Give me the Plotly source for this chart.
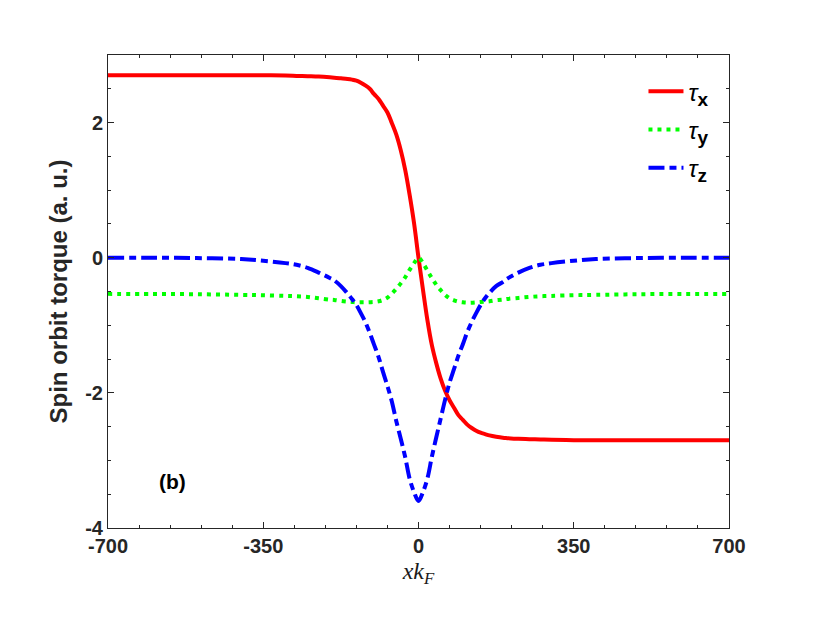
import plotly.graph_objects as go

# values
x_kf = [-700, -600, -500, -400, -350, -300, -275, -250, -225, -200, -190, -175, -160, -150, -140, -130, -120, -110, -100,
        -90, -80, -70, -60, -50, -40, -30, -20, -10,
        0, 10, 20, 30, 40, 50, 60, 70, 80, 90,
        100, 110, 120, 130, 140, 150, 160, 175, 190, 200, 225, 250, 275, 300, 350, 400, 500, 600, 700]

tau_x = [2.70, 2.70, 2.70, 2.70, 2.70, 2.695, 2.69, 2.685, 2.68, 2.67, 2.665, 2.655, 2.645, 2.635, 2.62, 2.59, 2.55, 2.50, 2.42,
         2.35, 2.25, 2.15, 1.99, 1.82, 1.59, 1.30, 0.93, 0.51,
         0.0, -0.47, -0.92, -1.29, -1.56, -1.79, -1.97, -2.11, -2.22, -2.33,
         -2.40, -2.47, -2.52, -2.56, -2.59, -2.61, -2.63, -2.65, -2.665, -2.67, -2.68, -2.685, -2.69, -2.695, -2.70, -2.70, -2.70, -2.70, -2.70]

tau_y = [-0.535, -0.537, -0.54, -0.55, -0.555, -0.565, -0.57, -0.58, -0.60, -0.62, -0.625, -0.64, -0.65, -0.655, -0.66, -0.66, -0.66, -0.658, -0.655,
         -0.645, -0.625, -0.59, -0.53, -0.46, -0.38, -0.29, -0.18, -0.08,
         0.0, -0.08, -0.19, -0.30, -0.40, -0.48, -0.55, -0.60, -0.63, -0.65,
         -0.66, -0.665, -0.665, -0.66, -0.655, -0.65, -0.645, -0.63, -0.62, -0.61, -0.595, -0.58, -0.57, -0.565, -0.555, -0.55, -0.54, -0.537, -0.535]

tau_z = [0.0, 0.0, -0.005, -0.02, -0.045, -0.08, -0.105, -0.15, -0.22, -0.30, -0.335, -0.42, -0.53, -0.61, -0.70, -0.82, -0.95, -1.11, -1.29,
         -1.47, -1.69, -1.90, -2.13, -2.42, -2.68, -2.95, -3.27, -3.47,
         -3.60, -3.47, -3.27, -2.95, -2.66, -2.38, -2.10, -1.85, -1.65, -1.45,
         -1.28, -1.10, -0.95, -0.82, -0.70, -0.60, -0.52, -0.42, -0.36, -0.31, -0.22, -0.15, -0.105, -0.08, -0.045, -0.02, -0.005, 0.0, 0.0]

x_ticks = [-700, -350, 0, 350, 700]
y_ticks = [-4, -2, 0, 2]

def leg(sub):
    return "<i>τ</i><sub><b><span style='font-size:19px'>" + sub + "</span></b></sub>"

fig = go.Figure()
fig.add_trace(go.Scatter(x=x_kf, y=tau_x, mode="lines", name=leg("x"), legendgroup="a",
                         line=dict(color="#ff0000", width=4, shape="spline", smoothing=1)))
fig.add_trace(go.Scatter(x=x_kf, y=tau_y, mode="lines", name=leg("y"), legendgroup="b",
                         line=dict(color="#00ff00", width=4, dash="4px,5px", shape="spline", smoothing=1)))
fig.add_trace(go.Scatter(x=x_kf, y=tau_z, mode="lines", name=leg("z"), legendgroup="c",
                         line=dict(color="#0000ff", width=4, dash="16px,5px,7px,5px", shape="spline", smoothing=1)))

fig.add_annotation(x=-555, y=-3.31, text="<b>(b)</b>", showarrow=False,
                   font=dict(family="Liberation Sans, Arial", size=21, color="black"))

axis_common = dict(showline=True, linecolor="#262626", linewidth=1, mirror="ticks", ticks="inside",
                   ticklen=6, tickcolor="#262626", showgrid=False, zeroline=False,
                   tickfont=dict(family="Liberation Sans, Arial", size=20, color="#262626"))

fig.update_xaxes(range=[-700, 700], tickvals=x_ticks, ticktext=["<b>%d</b>" % v for v in x_ticks],
                 minor=dict(dtick=70, ticks="inside", ticklen=3, tickcolor="#262626"),
                 title=dict(text="<i>xk</i><sub><i>F</i></sub>", standoff=6,
                            font=dict(family="Liberation Serif, DejaVu Serif", size=24, color="#1a1a1a")),
                 **axis_common)
fig.update_yaxes(range=[-4, 3], tickvals=y_ticks, ticktext=["<b>%d</b>" % v for v in y_ticks],
                 minor=dict(dtick=0.5, ticks="inside", ticklen=3, tickcolor="#262626"),
                 title=dict(text="<b>Spin orbit torque (a. u.)</b>", standoff=10,
                            font=dict(family="Liberation Sans, Arial", size=24, color="#262626")),
                 **axis_common)

fig.update_layout(width=822, height=622, plot_bgcolor="white", paper_bgcolor="white",
                  margin=dict(l=100, r=101, t=47, b=102),
                  legend=dict(x=0.975, y=0.97, xanchor="right", yanchor="top", bgcolor="rgba(0,0,0,0)",
                              font=dict(family="Liberation Sans, Arial", size=24, color="black"),
                              tracegroupgap=4, itemwidth=35))

fig.write_html("out.html")
